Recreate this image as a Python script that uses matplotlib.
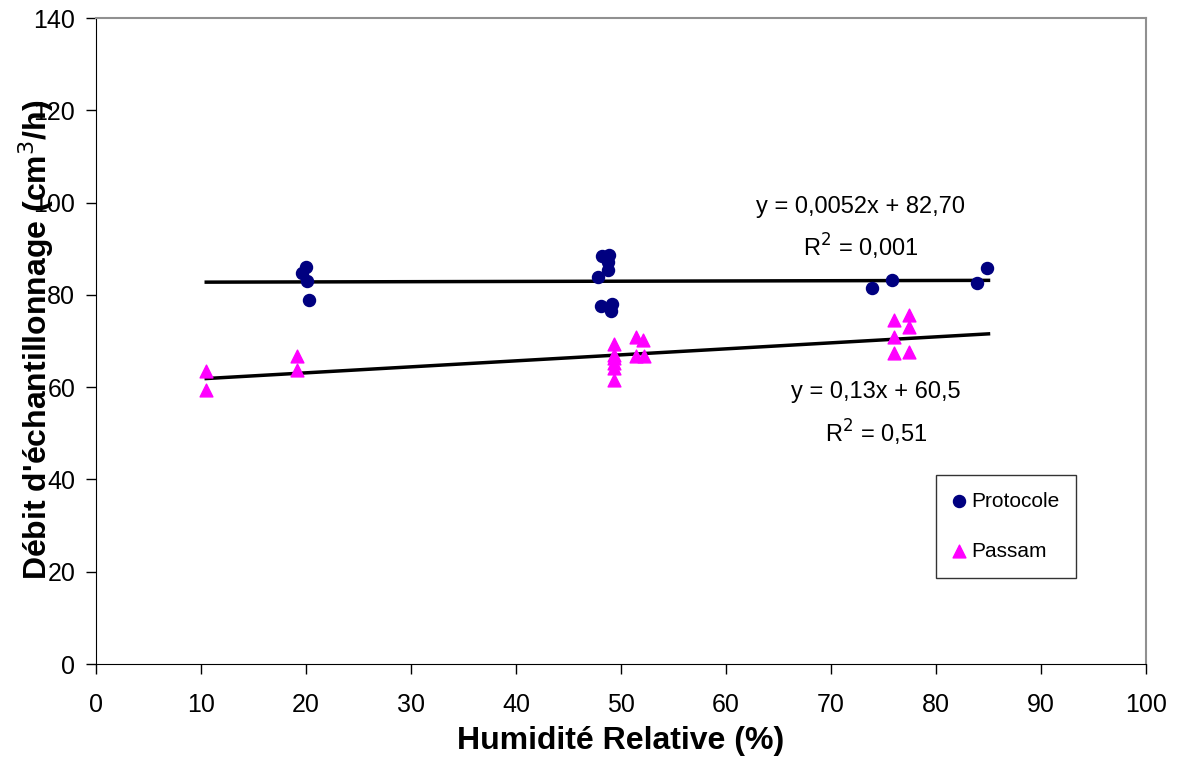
import numpy as np
import matplotlib
matplotlib.use("Agg")
import matplotlib.pyplot as plt

plt.rcParams['font.family'] = ['Liberation Sans', 'DejaVu Sans']

# humidite relative (%) and debit (cm3/h)
protocole_x = [20.0, 19.6, 20.1, 20.3,
               48.2, 48.9, 48.8, 48.8, 47.8, 48.1, 49.1, 49.0,
               73.9, 75.8, 83.9, 84.9]
protocole_y = [86.0, 84.7, 83.1, 78.9,
               88.5, 88.6, 87.2, 85.4, 83.9, 77.6, 78.0, 76.4,
               81.4, 83.2, 82.6, 85.8]

passam_x = [10.5, 10.5, 19.1, 19.1,
            49.3, 49.3, 49.3, 49.3, 49.3, 49.3,
            51.4, 52.1, 51.4, 52.2,
            76.0, 77.4, 77.4, 76.0, 76.0, 77.4]
passam_y = [63.5, 59.4, 66.8, 63.7,
            69.4, 67.0, 66.3, 65.2, 64.2, 61.6,
            70.9, 70.2, 66.8, 66.8,
            74.5, 75.6, 73.0, 70.8, 67.5, 67.7]

# trendline coefficients as printed on the chart
fit_protocole = (0.0052, 82.70)
fit_passam = (0.13, 60.5)

fig = plt.figure(figsize=(11.78, 7.60), dpi=100)
ax = fig.add_axes([96 / 1178, 96 / 760, 1050 / 1178, 646 / 760])

ax.scatter(protocole_x, protocole_y, marker='o', s=75, color='#000080',
           zorder=3, label='Protocole')
ax.scatter(passam_x, passam_y, marker='^', s=85, color='#FF00FF',
           zorder=3, label='Passam')

xs = np.array([10.5, 85.0])
ax.plot(xs, fit_protocole[0] * xs + fit_protocole[1], color='black', lw=2.5, zorder=2)
ax.plot(xs, fit_passam[0] * xs + fit_passam[1], color='black', lw=2.5, zorder=2)

ax.text(72.8, 99.0, 'y = 0,0052x + 82,70', ha='center', va='center', fontsize=17)
ax.text(72.8, 90.3, r'R$^2$ = 0,001', ha='center', va='center', fontsize=17)
ax.text(74.3, 59.0, 'y = 0,13x + 60,5', ha='center', va='center', fontsize=17)
ax.text(74.3, 50.0, r'R$^2$ = 0,51', ha='center', va='center', fontsize=17)

ax.set_xlim(0, 100)
ax.set_ylim(0, 140)
ax.set_xticks(np.arange(0, 101, 10))
ax.set_yticks(np.arange(0, 141, 20))
ax.tick_params(direction='out', length=7, width=1, labelsize=18)
ax.tick_params(axis='x', pad=14)
ax.tick_params(axis='y', pad=8)
for s in ['left', 'bottom']:
    ax.spines[s].set_color('black')
for s in ['top', 'right']:
    ax.spines[s].set_color('#909090')
    ax.spines[s].set_linewidth(1.5)

ax.set_xlabel('Humidité Relative (%)', fontsize=23, fontweight='bold', labelpad=6)
fig.text(36 / 1178, 0.5 + 40 / 760, "Débit d'échantillonnage (cm$^3$/h)", rotation=90,
         ha='center', va='center', fontsize=23, fontweight='bold')

leg = ax.legend(loc='upper left', bbox_to_anchor=((936 - 96) / 1050, (664 - 475) / 646),
                borderaxespad=0, fontsize=15, frameon=True, fancybox=False,
                edgecolor='black', borderpad=0.8, labelspacing=1.5, handletextpad=0.3,
                markerscale=1.0, handlelength=0.6)
leg.get_frame().set_linewidth(1)

fig.savefig('out.png', dpi=100)
